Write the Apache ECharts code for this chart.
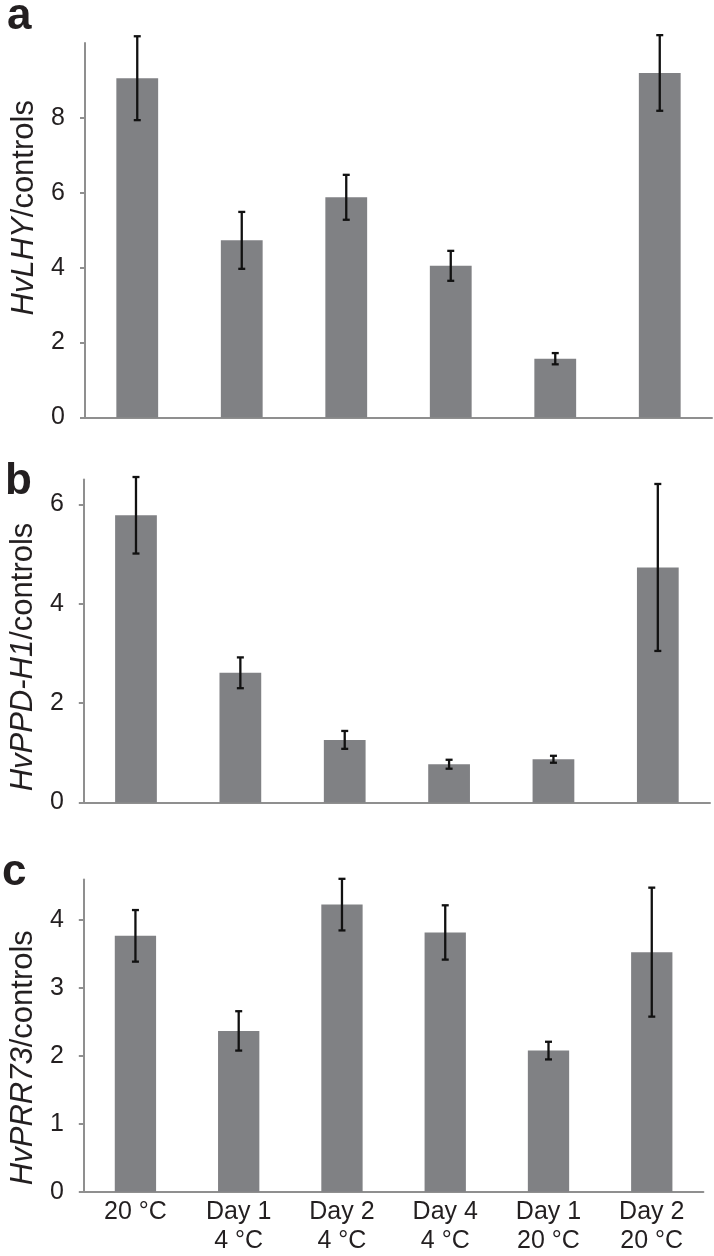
<!DOCTYPE html>
<html>
<head>
<meta charset="utf-8">
<script src="https://cdn.jsdelivr.net/npm/echarts@6/dist/echarts.min.js"></script>
<style>
html,body{margin:0;padding:0;background:#fff;}
#chart{width:714px;height:1256px;}
</style>
</head>
<body>
<div id="chart"></div>
<script>
// ---- data ----
const categories = ['20 °C', 'Day 1\n4 °C', 'Day 2\n4 °C', 'Day 4\n4 °C', 'Day 1\n20 °C', 'Day 2\n20 °C'];
const lhyMean = [9.06, 4.73, 5.88, 4.05, 1.57, 9.20];
const lhyErr  = [1.12, 0.76, 0.60, 0.40, 0.15, 1.01];
const ppdMean = [5.78, 2.61, 1.26, 0.77, 0.87, 4.73];
const ppdErr  = [0.77, 0.31, 0.18, 0.09, 0.07, 1.68];
const prrMean = [3.77, 2.37, 4.23, 3.82, 2.08, 3.53];
const prrErr  = [0.38, 0.29, 0.38, 0.40, 0.13, 0.95];
const lhyTicks = [0, 2, 4, 6, 8];
const ppdTicks = [0, 2, 4, 6];
const prrTicks = [0, 1, 2, 3, 4];

const FONT = 'Liberation Sans, Arial, sans-serif';
const TXT = '#231f20';
const AXIS = '#8f8f8f';
const BAR = '#808184';

const grids = [
  {left: 85, top: 43, width: 627, height: 374.5},
  {left: 83, top: 479.5, width: 627, height: 323},
  {left: 83, top: 879.5, width: 620.4, height: 312.3}
];

function yAxis(idx, max, ticks, nameItalic, gap, pad) {
  return {
    type: 'value', gridIndex: idx, min: 0, max: max,
    axisLine: {show: true, lineStyle: {color: AXIS, width: 2}},
    axisTick: {show: true, length: 5, customValues: ticks, lineStyle: {color: AXIS, width: 2}},
    axisLabel: {customValues: ticks, fontSize: 25, fontFamily: FONT, color: TXT, margin: 20},
    splitLine: {show: false},
    name: '{i|' + nameItalic + '}{n|/controls}',
    nameLocation: 'middle', nameRotate: 90, nameGap: gap,
    nameTextStyle: {
      fontSize: 31, fontFamily: FONT, color: TXT, padding: pad,
      rich: {
        i: {fontSize: 31, fontFamily: FONT, fontStyle: 'italic', color: TXT},
        n: {fontSize: 31, fontFamily: FONT, color: TXT}
      }
    }
  };
}

function xAxis(idx, showLabels) {
  return {
    type: 'category', gridIndex: idx, data: categories,
    axisLine: {show: true, lineStyle: {color: AXIS, width: 2}},
    axisTick: {show: false},
    axisLabel: {show: showLabels, fontSize: 25, fontFamily: FONT, color: TXT,
      lineHeight: 29, margin: 6, interval: 0, verticalAlign: 'top'}
  };
}

function errRender(params, api) {
  const x = api.value(0), lo = api.value(1), hi = api.value(2);
  const p1 = api.coord([x, hi]);
  const p2 = api.coord([x, lo]);
  const w = 3.5;
  const style = {stroke: '#111', lineWidth: 2.3};
  return {
    type: 'group',
    children: [
      {type: 'line', shape: {x1: p1[0], y1: p1[1], x2: p2[0], y2: p2[1]}, style: style},
      {type: 'line', shape: {x1: p1[0] - w, y1: p1[1], x2: p1[0] + w, y2: p1[1]}, style: style},
      {type: 'line', shape: {x1: p2[0] - w, y1: p2[1], x2: p2[0] + w, y2: p2[1]}, style: style}
    ]
  };
}

function errData(mean, err) {
  return mean.map((m, i) => [i, m - err[i], m + err[i]]);
}

function barSeries(idx, data) {
  return {type: 'bar', xAxisIndex: idx, yAxisIndex: idx, data: data, barWidth: '40%',
    itemStyle: {color: BAR}, silent: true};
}
function errSeries(idx, mean, err) {
  return {type: 'custom', xAxisIndex: idx, yAxisIndex: idx, data: errData(mean, err),
    renderItem: errRender, z: 10, silent: true,
    encode: {x: 0, y: [1, 2]}};
}

const chart = echarts.init(document.getElementById('chart'), null, {renderer: 'canvas'});
chart.setOption({
  animation: false,
  backgroundColor: '#fff',
  title: [
    {text: 'a', left: 7, top: -5, padding: 0, textStyle: {fontSize: 44, fontWeight: 'bold', fontFamily: FONT, color: TXT}},
    {text: 'b', left: 5, top: 460, padding: 0, textStyle: {fontSize: 44, fontWeight: 'bold', fontFamily: FONT, color: TXT}},
    {text: 'c', left: 2, top: 851, padding: 0, textStyle: {fontSize: 44, fontWeight: 'bold', fontFamily: FONT, color: TXT}}
  ],
  grid: grids,
  xAxis: [xAxis(0, false), xAxis(1, false), xAxis(2, true)],
  yAxis: [
    yAxis(0, 10, lhyTicks, 'HvLHY', 45, [0, 0, 0, 45]),
    yAxis(1, 6.5, ppdTicks, 'HvPPD-H1', 40, [0, 32, 0, 0]),
    yAxis(2, 4.6, prrTicks, 'HvPRR73', 41, [0, 44, 0, 0])
  ],
  series: [
    barSeries(0, lhyMean), errSeries(0, lhyMean, lhyErr),
    barSeries(1, ppdMean), errSeries(1, ppdMean, ppdErr),
    barSeries(2, prrMean), errSeries(2, prrMean, prrErr)
  ]
});
</script>
</body>
</html>
